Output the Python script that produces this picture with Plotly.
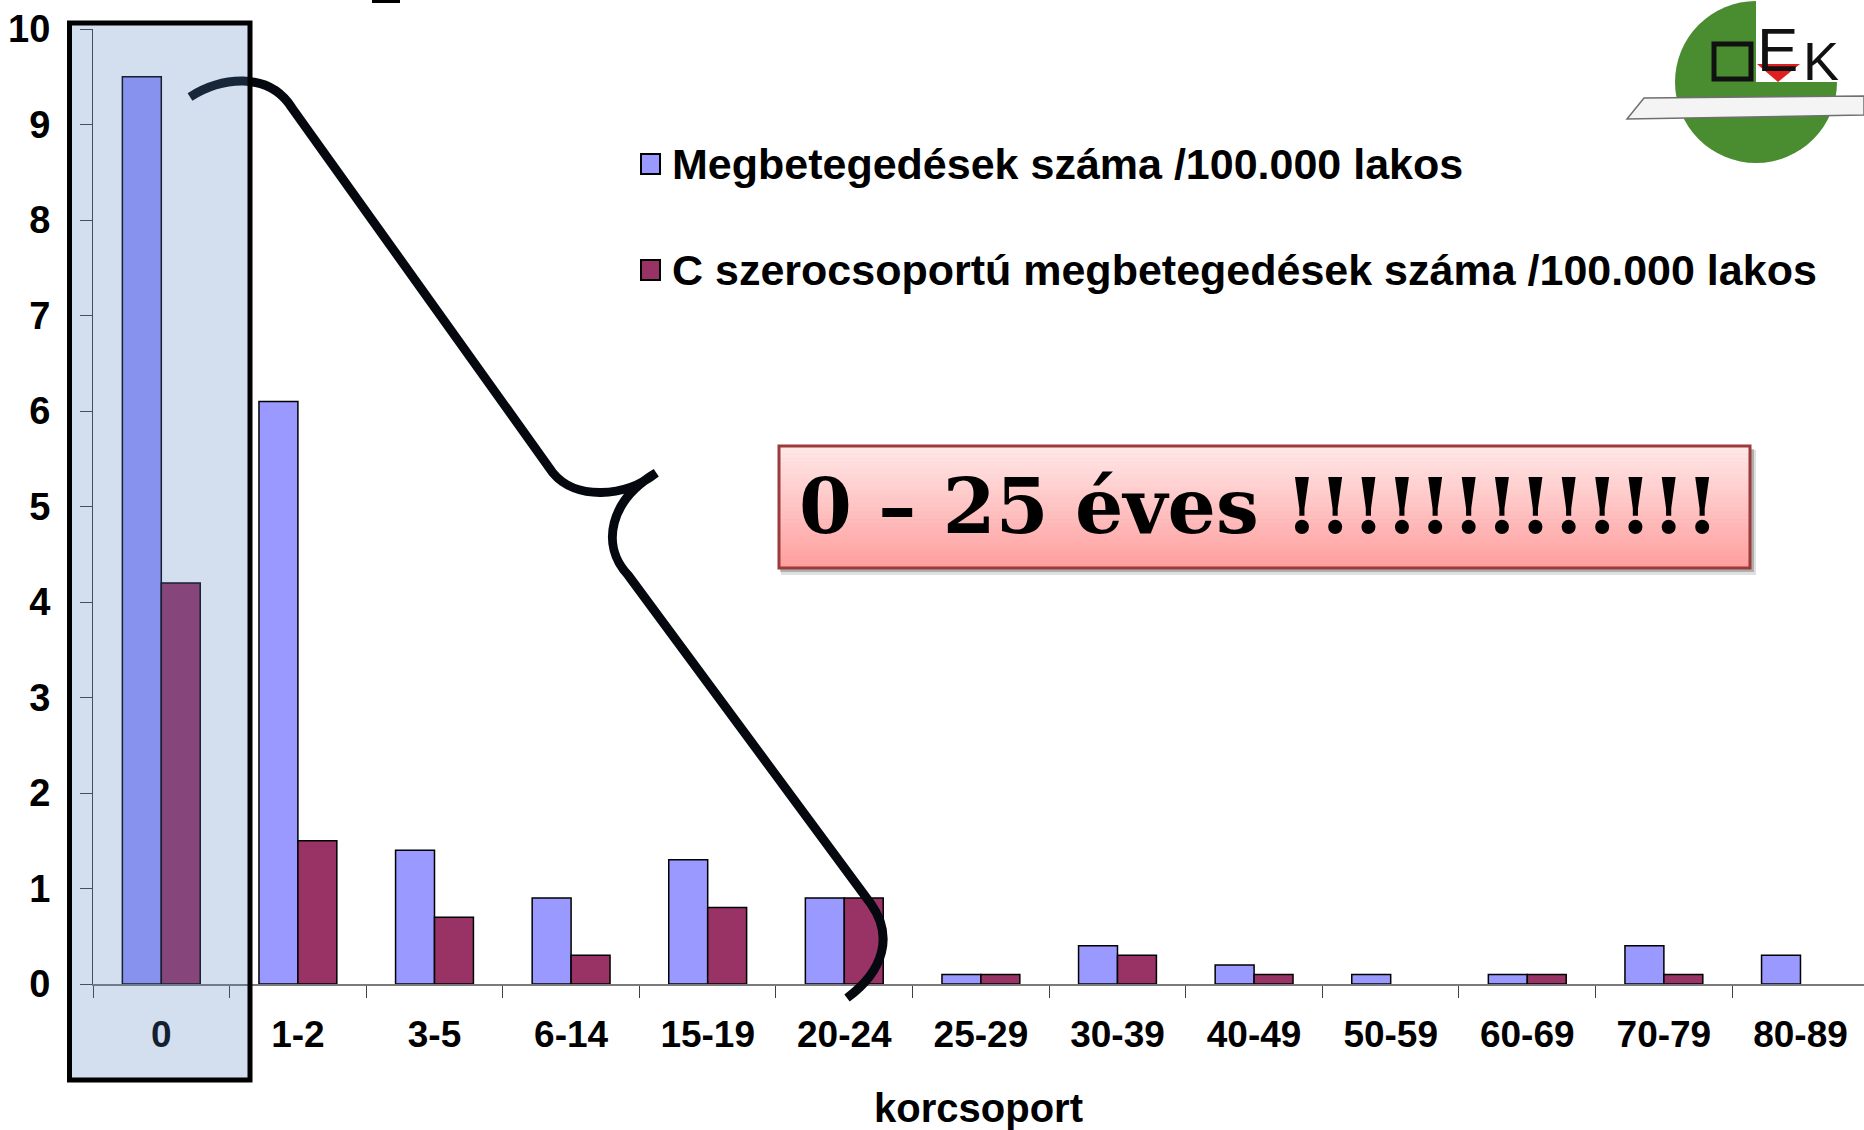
import plotly.graph_objects as go

# ---------------- data ----------------
categories = ["0", "1-2", "3-5", "6-14", "15-19", "20-24", "25-29",
              "30-39", "40-49", "50-59", "60-69", "70-79", "80-89"]
incidence_all = [9.5, 6.1, 1.4, 0.9, 1.3, 0.9, 0.1, 0.4, 0.2, 0.1, 0.1, 0.4, 0.3]
incidence_c = [4.2, 1.5, 0.7, 0.3, 0.8, 0.9, 0.1, 0.3, 0.1, 0.0, 0.1, 0.1, 0.0]
series_names = ["Megbetegedések száma /100.000 lakos",
                "C szerocsoportú megbetegedések száma /100.000 lakos"]
series_colors = ["#9999FF", "#993366"]
y_ticks = list(range(0, 11))
x_title = "korcsoport"
callout_text = "0 – 25 éves !!!!!!!!!!!!!"

# ---------------- geometry helpers (pixel -> paper) ----------------
W, H = 1864, 1130
L, R, T, B = 93, 1864, 29, 984


def px(x):
    return (x - L) / (R - L)


def py(y):
    return (B - y) / (B - T)


def path(points_cmds):
    out = []
    for cmd, pts in points_cmds:
        if cmd == "L":
            for x, y in pts:
                out.append(f"L{px(x):.5f},{py(y):.5f}")
            continue
        coords = " ".join(f"{px(x):.5f},{py(y):.5f}" for x, y in pts)
        out.append(f"{cmd}{coords}")
    return " ".join(out)


fig = go.Figure()
for name, vals, col in zip(series_names, [incidence_all, incidence_c], series_colors):
    fig.add_trace(go.Bar(x=categories, y=vals, name=name,
                         marker=dict(color=col,
                                     line=dict(color="black",
                                               width=[1.5 if v > 0 else 0 for v in vals]))))

shapes = []
annotations = []

# tiny remnant line at top
shapes.append(dict(type="rect", xref="paper", yref="paper", x0=px(372), x1=px(400),
                   y0=py(3), y1=py(0), fillcolor="black", line=dict(width=0)))

# curly brace
brace = path([
    ("M", [(190, 97)]),
    ("C", [(220, 78), (268, 70), (292, 108)]),
    ("L", [(553, 473)]),
    ("C", [(575, 500), (625, 498), (656, 473)]),
    ("C", [(610, 500), (600, 545), (628, 575)]),
    ("L", [(871, 904)]),
    ("C", [(893, 935), (885, 970), (847, 998)]),
])
shapes.append(dict(type="path", xref="paper", yref="paper", path=brace, layer="above",
                   line=dict(color="#05080e", width=9)))

# translucent highlight box over category 0
shapes.append(dict(type="rect", xref="paper", yref="paper", layer="above",
                   x0=px(69.5), x1=px(250), y0=py(1080), y1=py(23),
                   fillcolor="rgba(79,129,189,0.25)", line=dict(color="black", width=5)))

# legend (manual)
leg_rows = [(164, 0), (270, 1)]
for yc, i in leg_rows:
    shapes.append(dict(type="rect", xref="paper", yref="paper", layer="above",
                       x0=px(641), x1=px(660), y0=py(yc + 10), y1=py(yc - 10),
                       fillcolor=series_colors[i], line=dict(color="black", width=2)))
    annotations.append(dict(xref="paper", yref="paper", x=px(670), y=py(yc),
                            xanchor="left", yanchor="middle", showarrow=False,
                            text=series_names[i],
                            font=dict(family="Liberation Sans, Arial", size=43,
                                      color="black", weight="bold")))

# callout box: shadow + gradient + border
bx0, bx1, by0, by1 = 779, 1750, 446, 568
shapes.append(dict(type="rect", xref="paper", yref="paper", layer="above",
                   x0=px(bx0 + 2), x1=px(bx1 + 6), y0=py(by1 + 7), y1=py(by0 + 4),
                   fillcolor="rgba(0,0,0,0.12)", line=dict(width=0)))
shapes.append(dict(type="rect", xref="paper", yref="paper", layer="above",
                   x0=px(bx0 + 1), x1=px(bx1 + 4), y0=py(by1 + 4), y1=py(by0 + 3),
                   fillcolor="rgba(0,0,0,0.22)", line=dict(width=0)))
n = 30
top_c = (255, 232, 232)
bot_c = (255, 158, 158)
for k in range(n):
    t = (k + 0.5) / n
    c = tuple(int(round(top_c[j] + (bot_c[j] - top_c[j]) * t)) for j in range(3))
    ya = by0 + (by1 - by0) * k / n
    yb = by0 + (by1 - by0) * (k + 1) / n
    shapes.append(dict(type="rect", xref="paper", yref="paper", layer="above",
                       x0=px(bx0), x1=px(bx1), y0=py(yb + 0.6), y1=py(ya),
                       fillcolor=f"rgb{c}", line=dict(width=0)))
shapes.append(dict(type="rect", xref="paper", yref="paper", layer="above",
                   x0=px(bx0), x1=px(bx1), y0=py(by1), y1=py(by0),
                   fillcolor="rgba(0,0,0,0)", line=dict(color="#9B3B3B", width=3)))
annotations.append(dict(xref="paper", yref="paper", x=px(1259), y=py(507),
                        xanchor="center", yanchor="middle", showarrow=False,
                        text=callout_text,
                        font=dict(family="DejaVu Serif", size=76, color="black",
                                  weight="bold")))

# OEK logo
cx, cy, r = 1756, 82, 81
shapes.append(dict(type="circle", xref="paper", yref="paper", layer="above",
                   x0=px(cx - r), x1=px(cx + r), y0=py(cy + r), y1=py(cy - r),
                   fillcolor="#4A8C30", line=dict(width=0)))
shapes.append(dict(type="rect", xref="paper", yref="paper", layer="above",
                   x0=px(cx), x1=px(cx + r + 2), y0=py(cy), y1=py(cy - r - 2),
                   fillcolor="white", line=dict(width=0)))
band = path([("M", [(1644, 98)]), ("L", [(1864, 96), (1864, 115), (1627, 119)]), ("Z", [])])
shapes.append(dict(type="path", xref="paper", yref="paper", layer="above", path=band,
                   fillcolor="#F4F4F4", line=dict(color="#6f6f6f", width=1.5)))
shapes.append(dict(type="rect", xref="paper", yref="paper", layer="above",
                   x0=px(1714), x1=px(1751), y0=py(79), y1=py(44),
                   fillcolor="rgba(0,0,0,0)", line=dict(color="#111", width=5)))
tri = path([("M", [(1757, 64)]), ("L", [(1800, 64), (1778, 82)]), ("Z", [])])
shapes.append(dict(type="path", xref="paper", yref="paper", layer="above", path=tri,
                   fillcolor="#E02020", line=dict(width=0)))
annotations.append(dict(xref="paper", yref="paper", x=px(1777), y=py(49),
                        xanchor="center", yanchor="middle", showarrow=False, text="E",
                        font=dict(family="Liberation Sans, Arial", size=62, color="#111")))
annotations.append(dict(xref="paper", yref="paper", x=px(1821), y=py(61),
                        xanchor="center", yanchor="middle", showarrow=False, text="K",
                        font=dict(family="Liberation Sans, Arial", size=54, color="#111")))

tick_font = dict(family="Liberation Sans, Arial", size=37, color="black", weight="bold")

fig.update_layout(
    width=W, height=H, autosize=False,
    margin=dict(l=L, r=W - R, t=T, b=H - B, pad=0),
    paper_bgcolor="white", plot_bgcolor="white",
    showlegend=False,
    barmode="group", bargap=0.43, bargroupgap=0,
    shapes=shapes, annotations=annotations,
    xaxis=dict(type="category", range=[-0.5, 12.465], showgrid=False, zeroline=False,
               showline=True, linecolor="#7a7a7a", linewidth=2,
               ticks="outside", tickson="boundaries", ticklen=12, tickcolor="#404040",
               tickwidth=1, tickfont=tick_font, ticklabelstandoff=17,
               title=dict(text=x_title, standoff=40,
                          font=dict(family="Liberation Sans, Arial", size=40,
                                    color="black", weight="bold"))),
    yaxis=dict(range=[0, 10], tickvals=y_ticks, showgrid=False, zeroline=False,
               showline=True, linecolor="#404040", linewidth=1,
               ticks="outside", ticklen=12, tickcolor="#404040", tickwidth=1,
               tickfont=dict(family="Liberation Sans, Arial", size=38, color="black",
                             weight="bold"),
               ticklabelstandoff=22),
)

fig.write_html("out.html", config={"displayModeBar": False},
               post_script="document.body.style.margin='0';")
